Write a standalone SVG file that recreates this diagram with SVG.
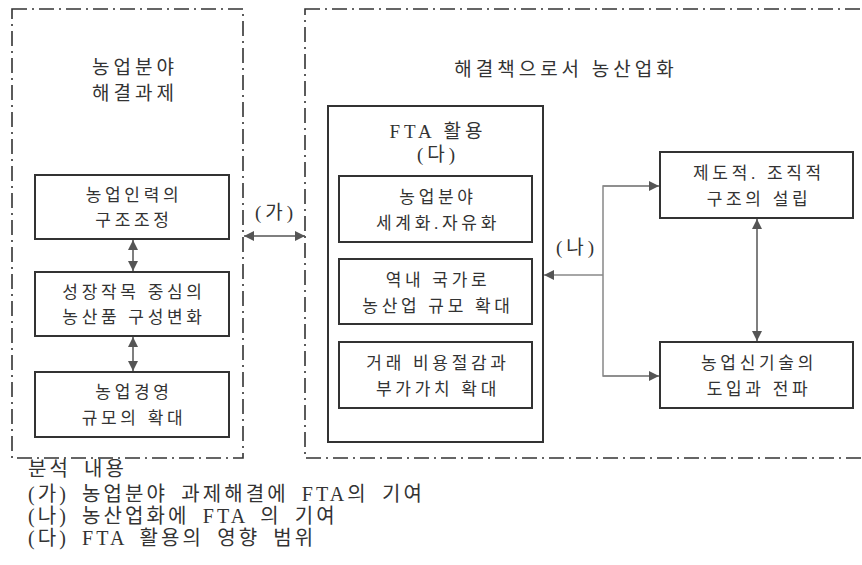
<svg xmlns="http://www.w3.org/2000/svg" width="862" height="565" viewBox="0 0 862 565">
<style>
.frame{fill:none;stroke:#333;stroke-width:1.6;stroke-dasharray:15 5 2 5}
.box{fill:#fff;stroke:#333;stroke-width:2}
.t{font-family:"Liberation Serif","Noto Sans CJK KR",serif;font-size:17px;fill:#333;text-anchor:middle;letter-spacing:3.7px}
.big{font-size:19px;letter-spacing:4px}
.leg{font-family:"Liberation Serif","Noto Sans CJK KR",serif;font-size:20px;fill:#333;letter-spacing:3.1px;word-spacing:5px}
.c{fill:none;stroke:#555;stroke-width:1.5}
.c2{fill:none;stroke:#888;stroke-width:1.5}
</style>
<defs>
<marker id="ah" viewBox="0 0 10 10" refX="10" refY="5" markerWidth="10" markerHeight="10" markerUnits="userSpaceOnUse" orient="auto-start-reverse">
<path d="M0,0 L10,5 L0,10 Z" fill="#555"/>
</marker>
</defs>
<rect width="862" height="565" fill="#fff"/>
<g id="left-frame">
<rect class="frame" x="12" y="9" width="231" height="449"/>
<text class="t big" x="135" y="74">농업분야</text>
<text class="t big" x="135" y="100">해결과제</text>
</g>
<g id="right-frame">
<rect class="frame" x="305" y="9" width="580" height="449"/>
<text class="t big" x="566" y="76">해결책으로서 농산업화</text>
</g>
<g id="n1"><rect class="box" x="35" y="175" width="194" height="64"/><text class="t" x="134" y="201">농업인력의</text><text class="t" x="134" y="226">구조조정</text></g>
<g id="n2"><rect class="box" x="35" y="272" width="194" height="64"/><text class="t" x="134" y="298">성장작목 중심의</text><text class="t" x="134" y="323">농산품 구성변화</text></g>
<g id="n3"><rect class="box" x="35" y="372" width="194" height="65"/><text class="t" x="134" y="398">농업경영</text><text class="t" x="134" y="424">규모의 확대</text></g>
<g id="fta"><rect class="box" x="328" y="106" width="215" height="336"/><text class="t big" x="438" y="138">FTA 활용</text><text class="t big" x="438" y="161">(다)</text></g>
<g id="f1"><rect class="box" x="339" y="176" width="193" height="66"/><text class="t" x="438" y="203">농업분야</text><text class="t" x="438" y="229">세계화.자유화</text></g>
<g id="f2"><rect class="box" x="339" y="259" width="193" height="65"/><text class="t" x="438" y="286">역내 국가로</text><text class="t" x="438" y="312">농산업 규모 확대</text></g>
<g id="f3"><rect class="box" x="339" y="342" width="193" height="66"/><text class="t" x="438" y="369">거래 비용절감과</text><text class="t" x="438" y="395">부가가치 확대</text></g>
<g id="r1"><rect class="box" x="660" y="152" width="193" height="66"/><text class="t" x="759" y="179">제도적. 조직적</text><text class="t" x="759" y="205">구조의 설립</text></g>
<g id="r2"><rect class="box" x="660" y="342" width="193" height="66"/><text class="t" x="759" y="369">농업신기술의</text><text class="t" x="759" y="395">도입과 전파</text></g>
<g id="connectors">
<line class="c" x1="133" y1="240" x2="133" y2="271" marker-start="url(#ah)" marker-end="url(#ah)"/>
<line class="c" x1="133" y1="337" x2="133" y2="371" marker-start="url(#ah)" marker-end="url(#ah)"/>
<line class="c" x1="244" y1="236" x2="305" y2="236" marker-start="url(#ah)" marker-end="url(#ah)"/>
<text class="t big" x="276" y="219">(가)</text>
<line class="c" x1="757" y1="219" x2="757" y2="341" marker-start="url(#ah)" marker-end="url(#ah)"/>
<polyline class="c2" points="659,186 603,186 603,376 659,376"/>
<line class="c2" x1="603" y1="186" x2="659" y2="186" marker-end="url(#ah)"/>
<line class="c2" x1="603" y1="376" x2="659" y2="376" marker-end="url(#ah)"/>
<line class="c2" x1="603" y1="275" x2="544" y2="275" marker-end="url(#ah)"/>
<text class="t big" x="577" y="254">(나)</text>
</g>
<g id="legend">
<text class="leg" x="28" y="476">분석 내용</text>
<text class="leg" x="28" y="501">(가) 농업분야 과제해결에 FTA의 기여</text>
<text class="leg" x="28" y="523">(나) 농산업화에 FTA 의 기여</text>
<text class="leg" x="28" y="545">(다) FTA 활용의 영향 범위</text>
</g>
</svg>
